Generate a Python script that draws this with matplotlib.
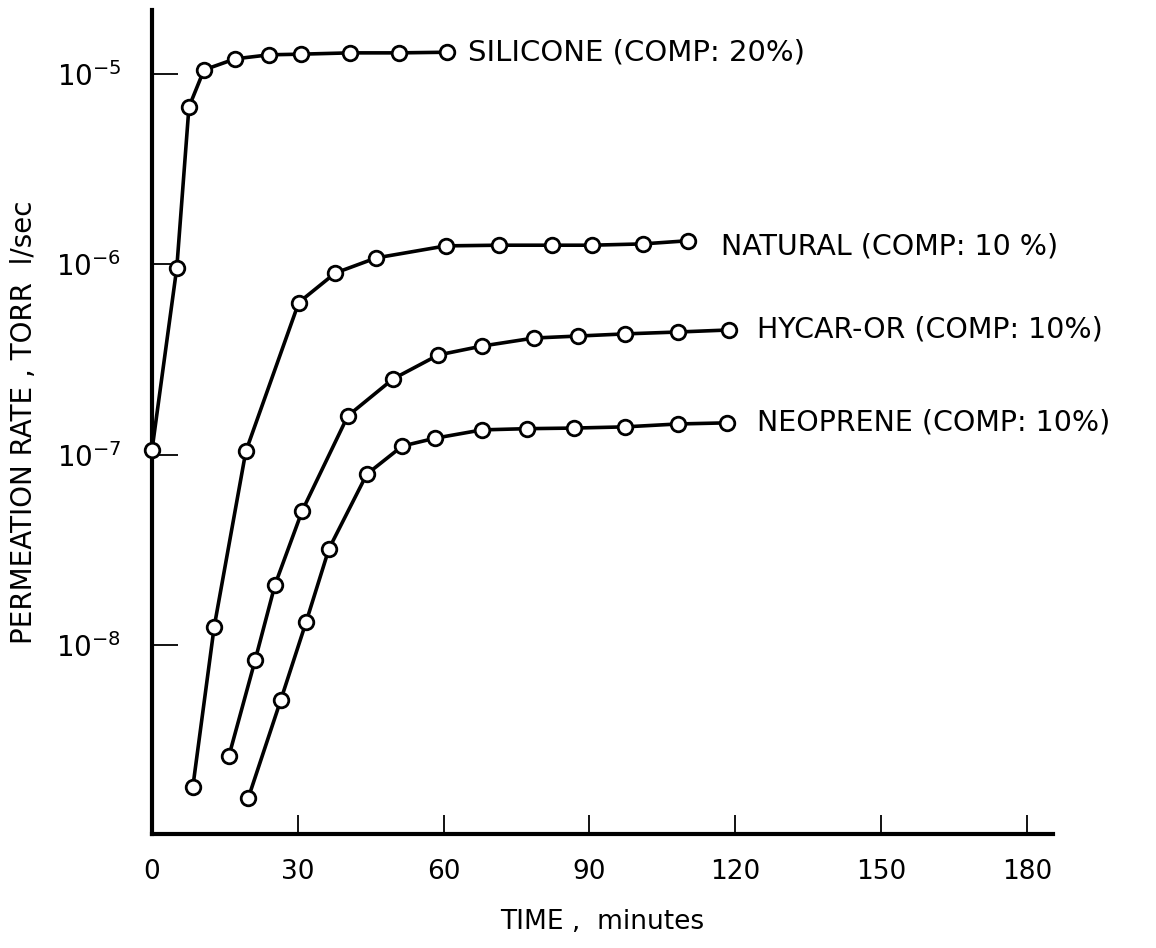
import numpy as np
import matplotlib
matplotlib.use("Agg")
import matplotlib.pyplot as plt

# time in minutes, permeation rate in torr l/sec
silicone_t = [0, 5.1, 7.6, 10.7, 17.1, 24.1, 30.7, 40.7, 50.8, 60.7]
silicone_r = [1.06e-7, 9.6e-7, 6.7e-6, 1.05e-5, 1.2e-5, 1.26e-5, 1.27e-5, 1.29e-5, 1.29e-5, 1.30e-5]

natural_t = [8.4, 12.8, 19.3, 30.2, 37.7, 46.1, 60.5, 71.4, 82.3, 90.5, 101.0, 110.3]
natural_r = [1.8e-9, 1.25e-8, 1.04e-7, 6.3e-7, 9.0e-7, 1.08e-6, 1.25e-6, 1.26e-6, 1.26e-6,
             1.26e-6, 1.28e-6, 1.33e-6]

hycar_t = [15.8, 21.2, 25.3, 30.9, 40.3, 49.6, 58.9, 67.9, 78.6, 87.7, 97.3, 108.2, 118.7]
hycar_r = [2.6e-9, 8.3e-9, 2.07e-8, 5.07e-8, 1.6e-7, 2.5e-7, 3.34e-7, 3.72e-7, 4.1e-7,
           4.2e-7, 4.31e-7, 4.41e-7, 4.52e-7]

neoprene_t = [19.8, 26.5, 31.7, 36.4, 44.2, 51.5, 58.2, 67.9, 77.1, 86.8, 97.3, 108.2, 118.3]
neoprene_r = [1.57e-9, 5.15e-9, 1.32e-8, 3.2e-8, 7.9e-8, 1.11e-7, 1.22e-7, 1.35e-7, 1.37e-7,
              1.38e-7, 1.40e-7, 1.45e-7, 1.47e-7]

labels = ["SILICONE (COMP: 20%)", "NATURAL (COMP: 10 %)",
          "HYCAR-OR (COMP: 10%)", "NEOPRENE (COMP: 10%)"]

x_ticks = [0, 30, 60, 90, 120, 150, 180]
y_ticks = [1e-8, 1e-7, 1e-6, 1e-5]
y_tick_labels = [r"$10^{-8}$", r"$10^{-7}$", r"$10^{-6}$", r"$10^{-5}$"]

plt.rcParams['font.family'] = ['DejaVu Sans']
plt.rcParams['mathtext.fontset'] = 'dejavusans'

fig = plt.figure(figsize=(11.56, 9.48), dpi=100)
ax = fig.add_axes([0.1315, 0.1203, 0.7794, 0.8692])

series = [(silicone_t, silicone_r), (natural_t, natural_r),
          (hycar_t, hycar_r), (neoprene_t, neoprene_r)]
offsets = [(15, 0), (24, -4), (20, 0), (22, 0)]
sizes = [21, 20.5, 20.5, 20.5]
for (t, r), lab, off, fs in zip(series, labels, offsets, sizes):
    ax.plot(t, r, color='black', lw=2.6, marker='o', ms=10.5,
            mfc='white', mec='black', mew=2.0, zorder=3, clip_on=False)
    ax.annotate(lab, xy=(t[-1], r[-1]), xytext=off, textcoords='offset points',
                ha='left', va='center', fontsize=fs)

ax.set_yscale('log')
ax.set_xlim(0, 185.4)
ax.set_ylim(10 ** -8.992, 10 ** -4.664)

ax.set_xticks(x_ticks)
ax.set_xticklabels([str(v) for v in x_ticks])
ax.set_yticks(y_ticks)
ax.set_yticklabels(y_tick_labels)
ax.yaxis.set_minor_locator(matplotlib.ticker.NullLocator())

ax.tick_params(axis='x', direction='in', length=14, width=1.3, pad=18, labelsize=19)
ax.tick_params(axis='y', direction='in', length=19, width=1.3, pad=22, labelsize=20)

for s in ['top', 'right']:
    ax.spines[s].set_visible(False)
for s in ['left', 'bottom']:
    ax.spines[s].set_linewidth(3)

ax.set_xlabel("TIME ,  minutes", fontsize=19, labelpad=17)
ax.set_ylabel("PERMEATION RATE , TORR  l/sec", fontsize=20, labelpad=13)

for lbl in ax.get_xticklabels() + ax.get_yticklabels():
    lbl.set_clip_on(False)

plt.savefig("out.png", dpi=100)
